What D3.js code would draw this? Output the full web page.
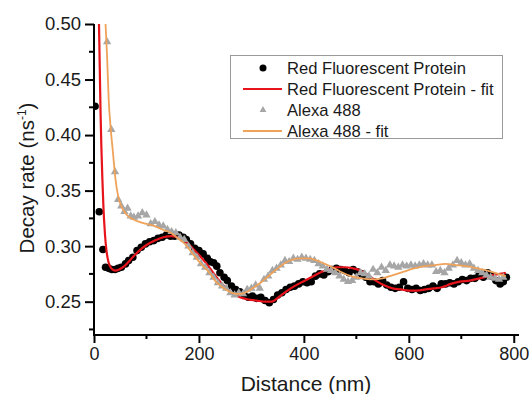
<!DOCTYPE html>
<html>
<head>
<meta charset="utf-8">
<script src="https://cdn.jsdelivr.net/npm/d3@7"></script>
<style>
  body { margin: 0; background: #fff; }
  text { font-family: Arial, "Liberation Sans", sans-serif; }
</style>
</head>
<body>
<svg id="chart" width="530" height="394"></svg>
<script>
// distance (nm), decay rate (ns^-1)
const rfpPoints = [
  [2,0.426],[10,0.331],[17,0.297],[22,0.281],[28,0.280],[34,0.279],[40,0.279],[46,0.280],[52,0.281],
  [60,0.284],[66,0.287],[74,0.290],[82,0.296],[90,0.299],[98,0.302],[106,0.304],[114,0.305],[122,0.307],
  [130,0.308],[138,0.310],[146,0.309],[154,0.309],[162,0.310],[170,0.308],[176,0.306],[184,0.302],
  [192,0.298],[200,0.296],[208,0.293],[216,0.289],[222,0.286],[228,0.285],[234,0.282],[240,0.276],
  [248,0.272],[254,0.269],[262,0.264],[270,0.261],[278,0.259],[286,0.256],[294,0.254],[302,0.255],
  [310,0.253],[318,0.254],[326,0.251],[334,0.249],[342,0.252],[350,0.256],[358,0.258],[366,0.261],
  [374,0.263],[382,0.264],[390,0.266],[398,0.268],[406,0.267],[414,0.268],[422,0.273],[430,0.275],
  [438,0.274],[446,0.277],[454,0.279],[462,0.280],[470,0.279],[478,0.278],[486,0.276],[494,0.279],
  [502,0.277],[510,0.275],[518,0.272],[526,0.268],[534,0.268],[542,0.266],[550,0.269],[558,0.265],
  [566,0.263],[574,0.262],[582,0.263],[590,0.268],[598,0.262],[606,0.261],[614,0.262],[622,0.260],
  [630,0.261],[638,0.262],[646,0.264],[654,0.262],[662,0.266],[670,0.266],[678,0.267],[686,0.266],
  [694,0.268],[702,0.270],[710,0.269],[718,0.271],[726,0.271],[734,0.274],[742,0.272],[750,0.276],
  [758,0.273],[766,0.269],[774,0.266],[780,0.268],[786,0.272]
];

const rfpFit = [
  [9.5,0.50],[11,0.46],[12.5,0.42],[14,0.39],[16,0.36],[18,0.335],[21,0.31],[24,0.295],[28,0.285],
  [33,0.280],[40,0.278],[48,0.279],[58,0.282],[70,0.288],[84,0.295],[100,0.301],[116,0.305],[132,0.308],
  [148,0.309],[164,0.307],[178,0.303],[190,0.297],[204,0.290],[218,0.282],[232,0.273],[246,0.265],
  [262,0.258],[278,0.254],[294,0.252],[310,0.251],[325,0.250],[338,0.250],[352,0.254],[366,0.259],
  [382,0.264],[398,0.268],[414,0.272],[430,0.276],[446,0.279],[462,0.281],[478,0.281],[494,0.280],
  [508,0.278],[522,0.274],[537,0.269],[552,0.265],[569,0.262],[585,0.261],[600,0.260],[616,0.260],
  [632,0.261],[648,0.262],[663,0.263],[680,0.266],[697,0.268],[716,0.269],[735,0.271],[760,0.274],
  [785,0.276]
];

const alexaPoints = [
  [25,0.484],[33,0.405],[40,0.367],[46,0.342],[52,0.336],[58,0.331],[64,0.334],[70,0.327],[76,0.326],
  [84,0.327],[92,0.330],[100,0.328],[108,0.320],[116,0.322],[124,0.319],[132,0.318],[140,0.315],
  [148,0.313],[156,0.312],[164,0.308],[172,0.306],[180,0.300],[188,0.294],[196,0.290],[204,0.284],
  [212,0.281],[220,0.276],[228,0.272],[236,0.267],[244,0.264],[252,0.262],[260,0.258],[268,0.256],
  [276,0.258],[284,0.257],[292,0.261],[300,0.262],[308,0.265],[316,0.262],[324,0.270],[332,0.273],
  [340,0.278],[348,0.280],[356,0.283],[364,0.287],[372,0.286],[380,0.289],[388,0.288],[396,0.290],
  [404,0.289],[412,0.288],[420,0.287],[428,0.284],[436,0.282],[444,0.279],[452,0.278],[460,0.276],
  [468,0.273],[476,0.270],[484,0.268],[492,0.269],[500,0.272],[508,0.276],[516,0.275],[524,0.273],
  [532,0.279],[540,0.276],[548,0.281],[556,0.278],[564,0.283],[572,0.282],[580,0.281],[588,0.283],
  [596,0.282],[604,0.283],[612,0.282],[620,0.283],[628,0.284],[636,0.283],[644,0.283],[652,0.277],
  [660,0.278],[668,0.276],[676,0.280],[684,0.283],[692,0.287],[700,0.285],[708,0.283],[716,0.284],
  [724,0.280],[732,0.278],[740,0.276],[748,0.274],[756,0.272],[764,0.271],[772,0.270],[780,0.272]
];

const alexaFit = [
  [22,0.50],[25,0.47],[28,0.432],[32,0.405],[36,0.385],[41,0.360],[46,0.345],[51,0.337],[58,0.331],
  [65,0.327],[75,0.324],[85,0.322],[100,0.320],[116,0.318],[130,0.315],[146,0.312],[160,0.307],
  [173,0.302],[185,0.295],[195,0.289],[208,0.282],[220,0.276],[232,0.268],[245,0.263],[258,0.259],
  [270,0.257],[280,0.257],[292,0.259],[305,0.263],[320,0.268],[335,0.274],[350,0.280],[365,0.285],
  [380,0.288],[395,0.289],[410,0.289],[425,0.287],[440,0.284],[455,0.281],[470,0.277],[490,0.273],
  [510,0.271],[530,0.270],[550,0.271],[570,0.274],[590,0.277],[610,0.280],[630,0.282],[650,0.283],
  [670,0.284],[690,0.283],[710,0.282],[730,0.280],[750,0.278],[770,0.275],[785,0.273]
];

const xMajorTicks = [0, 200, 400, 600, 800];
const xMinorTicks = [100, 300, 500, 700];
const yMajorTicks = [0.25, 0.30, 0.35, 0.40, 0.45, 0.50];
const yMinorTicks = [0.225, 0.275, 0.325, 0.375, 0.425, 0.475];

const legendItems = [
  { label: "Red Fluorescent Protein", kind: "dot" },
  { label: "Red Fluorescent Protein - fit", kind: "redline" },
  { label: "Alexa 488", kind: "tri" },
  { label: "Alexa 488 - fit", kind: "orangeline" }
];

const redColor = "#e8141c";
const orangeColor = "#eea25a";
const greyColor = "#a6a6a6";
const textColor = "#1a1a1a";

const svg = d3.select("svg#chart");
const plotBox = { left: 94, right: 519, top: 24, bottom: 335 };

const x = d3.scaleLinear().domain([0, 810]).range([plotBox.left, plotBox.right]);
const y = d3.scaleLinear().domain([0.22, 0.50]).range([plotBox.bottom, plotBox.top]);

svg.append("clipPath").attr("id", "plotclip")
  .append("rect")
  .attr("x", plotBox.left).attr("y", plotBox.top - 1)
  .attr("width", plotBox.right - plotBox.left + 10)
  .attr("height", plotBox.bottom - plotBox.top + 1);

const plot = svg.append("g").attr("clip-path", "url(#plotclip)");

// RFP dots
plot.selectAll(".dot")
  .data(rfpPoints)
  .enter().append("circle")
  .attr("class", "dot")
  .attr("cx", d => x(d[0]))
  .attr("cy", d => y(d[1]))
  .attr("r", 3.8)
  .attr("fill", "#000");

const line = d3.line()
  .x(d => x(d[0]))
  .y(d => y(d[1]))
  .curve(d3.curveMonotoneX);

plot.append("path")
  .datum(rfpFit)
  .attr("fill", "none")
  .attr("stroke", redColor)
  .attr("stroke-width", 2.2)
  .attr("d", line);

// Alexa triangles
const tri = d3.symbol().type(d3.symbolTriangle).size(30);
plot.selectAll(".tri")
  .data(alexaPoints)
  .enter().append("path")
  .attr("class", "tri")
  .attr("transform", d => `translate(${x(d[0])},${y(d[1])})`)
  .attr("d", tri)
  .attr("fill", greyColor);

plot.append("path")
  .datum(alexaFit)
  .attr("fill", "none")
  .attr("stroke", orangeColor)
  .attr("stroke-width", 1.8)
  .attr("d", line);

// axes
const xAxis = svg.append("g").attr("transform", `translate(0,${plotBox.bottom})`);
xAxis.call(d3.axisBottom(x).tickValues(xMajorTicks).tickSize(8).tickPadding(4).tickSizeOuter(0));
xAxis.selectAll(".tick line").attr("stroke-width", 2);
xAxis.selectAll(".tick text").attr("font-size", 18).attr("fill", textColor);
xAxis.select(".domain").attr("stroke-width", 2).attr("d", `M${plotBox.left - 1},0H${plotBox.right}`);
xAxis.selectAll(".minor")
  .data(xMinorTicks)
  .enter().append("line")
  .attr("class", "minor")
  .attr("x1", d => x(d)).attr("x2", d => x(d))
  .attr("y1", 0).attr("y2", 4)
  .attr("stroke", "#000").attr("stroke-width", 2);

const yAxis = svg.append("g").attr("transform", `translate(${plotBox.left},0)`);
yAxis.call(d3.axisLeft(y).tickValues(yMajorTicks).tickFormat(d3.format(".2f")).tickSize(9).tickPadding(4).tickSizeOuter(0));
yAxis.selectAll(".tick line").attr("stroke-width", 2);
yAxis.selectAll(".tick text").attr("font-size", 18.5).attr("fill", textColor);
yAxis.select(".domain").attr("stroke-width", 2).attr("d", `M0,${plotBox.top}V${plotBox.bottom + 1}`);
yAxis.selectAll(".minor")
  .data(yMinorTicks)
  .enter().append("line")
  .attr("class", "minor")
  .attr("x1", 0).attr("x2", -5)
  .attr("y1", d => y(d)).attr("y2", d => y(d))
  .attr("stroke", "#000").attr("stroke-width", 2);

// titles
svg.append("text")
  .attr("x", 306)
  .attr("y", 391)
  .attr("text-anchor", "middle")
  .attr("font-size", 21)
  .attr("fill", textColor)
  .text("Distance (nm)");

const yt = svg.append("text")
  .attr("transform", "translate(34,178) rotate(-90)")
  .attr("text-anchor", "middle")
  .attr("font-size", 20.5)
  .attr("fill", textColor);
yt.append("tspan").text("Decay rate (ns");
yt.append("tspan").attr("font-size", 12).attr("dy", -8).text("-1");
yt.append("tspan").attr("dy", 8).text(")");

// legend
const legend = svg.append("g");
legend.append("rect")
  .attr("x", 230.5).attr("y", 55.5)
  .attr("width", 272).attr("height", 83)
  .attr("fill", "#fff")
  .attr("stroke", "#9a9a9a")
  .attr("stroke-width", 1);

const rows = legend.selectAll(".legend")
  .data(legendItems)
  .enter().append("g")
  .attr("class", "legend")
  .attr("transform", (d, i) => `translate(0,${68 + i * 21})`);

rows.filter(d => d.kind === "dot").append("circle")
  .attr("cx", 263).attr("cy", 0).attr("r", 3.5).attr("fill", "#000");
rows.filter(d => d.kind === "redline").append("line")
  .attr("x1", 243).attr("x2", 282).attr("y1", 0).attr("y2", 0)
  .attr("stroke", redColor).attr("stroke-width", 2.2);
rows.filter(d => d.kind === "tri").append("path")
  .attr("transform", "translate(263,0)")
  .attr("d", d3.symbol().type(d3.symbolTriangle).size(20))
  .attr("fill", greyColor);
rows.filter(d => d.kind === "orangeline").append("line")
  .attr("x1", 243).attr("x2", 282).attr("y1", 0).attr("y2", 0)
  .attr("stroke", orangeColor).attr("stroke-width", 1.8);

rows.append("text")
  .attr("x", 287)
  .attr("y", 0)
  .attr("dy", "0.35em")
  .attr("font-size", 16.6)
  .attr("fill", textColor)
  .text(d => d.label);
</script>
</body>
</html>
